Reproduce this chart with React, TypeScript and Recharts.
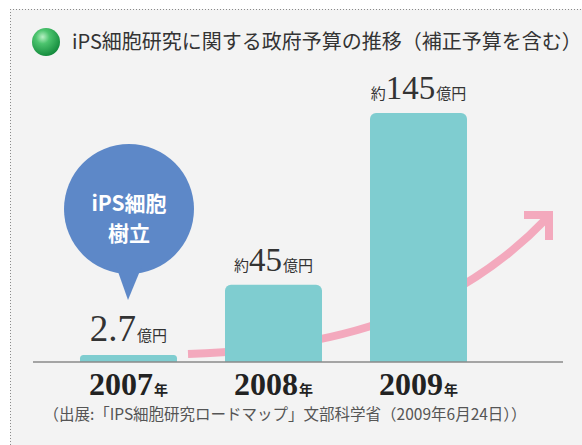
import React from 'react';
import { BarChart, Bar, XAxis, YAxis, LabelList } from 'recharts';

const years = ['2007', '2008', '2009'];
const budgets = [2.7, 45, 145];
const prefixes = ['', '約', '約'];
const yearSuffix = '年';
const unit = '億円';
const title = 'iPS細胞研究に関する政府予算の推移（補正予算を含む）';
const source = '（出展:「IPS細胞研究ロードマップ」文部科学省（2009年6月24日））';
const bubbleLines = ['iPS細胞', '樹立'];

const data = years.map((y, i) => ({ year: y, budget: budgets[i], prefix: prefixes[i] }));

const JP = '"Noto Sans CJK JP", "Noto Sans", sans-serif';
const SERIF = '"Liberation Serif", "DejaVu Serif", serif';

const W = 582;
const H = 445;

const YearTick = (props: any) => {
  const { x, y, payload } = props;
  return (
    <text x={x} y={y + 25} textAnchor="middle" fill="#222">
      <tspan fontFamily={SERIF} fontWeight="bold" fontSize={32}>{payload.value}</tspan>
      <tspan fontFamily={JP} fontSize={14} fontWeight="bold" dx={1}>{yearSuffix}</tspan>
    </text>
  );
};

const ValueLabel = (props: any) => {
  const { x, y, width, value, index } = props;
  const pre = prefixes[index];
  const big = index === 0 ? 37 : 33;
  return (
    <text x={x + width / 2} y={y - 14} textAnchor="middle" fill="#333">
      {pre ? <tspan fontFamily={JP} fontSize={15}>{pre}</tspan> : null}
      <tspan fontFamily={SERIF} fontSize={big}>{String(value)}</tspan>
      <tspan fontFamily={JP} fontSize={15} dx={1}>{unit}</tspan>
    </text>
  );
};

export default function App() {
  return (
    <div style={{ position: 'absolute', left: 0, top: 0, width: W, height: H, background: '#ffffff' }}>
      <svg width={W} height={H} style={{ position: 'absolute', left: 0, top: 0 }}>
        <defs>
          <radialGradient id="sphere" cx="38%" cy="32%" r="70%">
            <stop offset="0%" stopColor="#b8f0c4" />
            <stop offset="35%" stopColor="#4cc46e" />
            <stop offset="100%" stopColor="#138a3c" />
          </radialGradient>
        </defs>
        <rect x={10} y={9} width={W - 10} height={H - 9} fill="#f3f3f3" />
        <line x1={10} y1={9.5} x2={W} y2={9.5} stroke="#8a8a8a" strokeDasharray="1 2" />
        <line x1={10.5} y1={9} x2={10.5} y2={H} stroke="#8a8a8a" strokeDasharray="1 2" />
        <circle cx={46} cy={42} r={14} fill="url(#sphere)" />
        <text x={72} y={49} fontFamily={JP} fontSize={20} fill="#333">{title}</text>
        <text x={285} y={420} textAnchor="middle" fontFamily={JP} fontSize={15.5} fill="#555">{source}</text>
        <path d="M188,354 C300,350 440,330 547,218" fill="none" stroke="#f3a9bd" strokeWidth={8} />
        <polyline points="524,215 549,215 549,240" fill="none" stroke="#f3a9bd" strokeWidth={8} strokeLinejoin="miter" />
      </svg>
      <div style={{ position: 'absolute', left: 0, top: 0 }}>
        <BarChart width={W} height={H} data={data} margin={{ top: 113, right: 19, bottom: 53, left: 33 }}>
          <XAxis
            dataKey="year"
            height={30}
            padding={{ left: 23, right: 72 }}
            axisLine={{ stroke: '#8a8a8a', strokeWidth: 1.5 }}
            tickLine={false}
            tick={<YearTick />}
            interval={0}
          />
          <YAxis hide domain={[0, 145]} />
          <Bar dataKey="budget" fill="#7fcdd0" barSize={97} radius={[6, 6, 0, 0]} minPointSize={7} isAnimationActive={false}>
            <LabelList dataKey="budget" content={<ValueLabel />} />
          </Bar>
        </BarChart>
      </div>
      <svg width={W} height={H} style={{ position: 'absolute', left: 0, top: 0, pointerEvents: 'none' }}>
        <circle cx={129} cy={209} r={65} fill="#5d88c8" />
        <polygon points="116,266 142,266 128,300" fill="#5d88c8" />
        <text x={129} y={211} textAnchor="middle" fontFamily={JP} fontWeight="bold" fontSize={21} fill="#ffffff">{bubbleLines[0]}</text>
        <text x={129} y={241} textAnchor="middle" fontFamily={JP} fontWeight="bold" fontSize={21} fill="#ffffff">{bubbleLines[1]}</text>
      </svg>
    </div>
  );
}
